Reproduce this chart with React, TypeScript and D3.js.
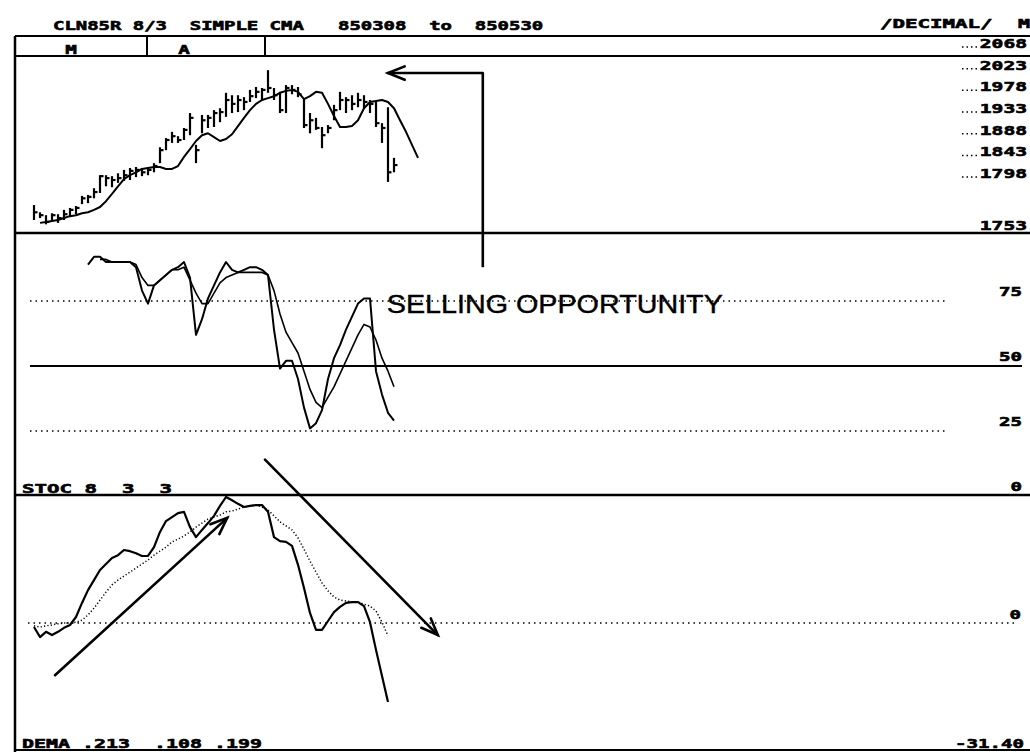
import * as d3 from "d3";

// ---- text ----
const titleText = "CLN85R 8/3  SIMPLE CMA   850308  to  850530";
const unitText = "/DECIMAL/";
const cornerText = "M";
const tabLabels = ["M", "A"];
const stochTitle = "STOC 8  3  3";
const demaTitle = "DEMA .213  .108 .199";
const noteText = "SELLING OPPORTUNITY";

// ---- axis labels ----
const priceTicks = [2068, 2023, 1978, 1933, 1888, 1843, 1798];
const priceFloorLabel = "1753";
const stochTicks = [75, 50, 25, 0];
const stochDotted = [75, 25];
const demaFloorLabel = "-31.40";

// ---- daily bars (index 0 = 850308) ----
const high = [
  1742, 1727, 1721, 1725, 1723, 1732, 1736, 1740, 1761, 1763,
  1777, 1804, 1804, 1802, 1808, 1815, 1819, 1821, 1819, 1821,
  1829, 1862, 1881, 1894, 1885, 1902, 1933, 1867, 1929, 1929,
  1939, 1943, 1975, 1970, 1970, 1966, 1981, 1987, 1985, 2022,
  1985, 1977, 1991, 1991, 1987, 1964, 1933, 1923, 1904, 1908,
  1950, 1977, 1966, 1970, 1975, 1970, 1960, 1956, 1912, 1945,
  1840,
];
const low = [
  1711, 1715, 1702, 1707, 1705, 1711, 1717, 1723, 1744, 1746,
  1756, 1767, 1781, 1779, 1788, 1792, 1794, 1800, 1802, 1804,
  1810, 1829, 1856, 1871, 1871, 1877, 1887, 1829, 1891, 1902,
  1904, 1914, 1925, 1933, 1935, 1939, 1956, 1964, 1960, 1975,
  1960, 1933, 1933, 1972, 1966, 1902, 1891, 1898, 1860, 1891,
  1918, 1939, 1933, 1939, 1945, 1943, 1933, 1904, 1871, 1790,
  1810,
];
const close = [
  1727, 1721, 1707, 1721, 1715, 1723, 1732, 1736, 1756, 1759,
  1769, 1802, 1798, 1794, 1798, 1804, 1813, 1815, 1810, 1815,
  1823, 1856, 1877, 1885, 1877, 1898, 1923, 1856, 1918, 1923,
  1933, 1935, 1960, 1952, 1960, 1956, 1968, 1977, 1981, 1985,
  1970, 1939, 1985, 1981, 1972, 1908, 1918, 1902, 1887, 1902,
  1939, 1960, 1960, 1952, 1960, 1956, 1952, 1912, 1902, 1810,
  1825,
];

// 8 day average displaced 3 days, starts at index 1
const maStart = 1;
const movingAvg = [
  1705, 1707, 1709, 1711, 1715, 1719, 1721, 1725, 1727, 1732,
  1738, 1750, 1765, 1781, 1796, 1804, 1810, 1817, 1819, 1821,
  1821, 1817, 1817, 1823, 1842, 1858, 1875, 1887, 1891, 1883,
  1875, 1879, 1889, 1906, 1923, 1939, 1952, 1960, 1964, 1968,
  1975, 1979, 1981, 1977, 1962, 1968, 1977, 1975, 1952, 1927,
  1904, 1904, 1906, 1918, 1943, 1956, 1958, 1960, 1956, 1943,
  1918, 1894, 1867, 1840,
];

// stochastic %K from index 9, %D from index 11
const kStart = 9;
const stochK = [
  89, 92, 92, 90, 90, 90, 90, 90, 88, 79,
  74, 81, 83, 85, 87, 88, 90, 84, 62, 68,
  76, 81, 86, 90, 87, 86, 87, 88, 88, 87,
  85, 64, 49, 52, 52, 45, 34, 26, 28, 33,
  45, 53, 58, 64, 69, 74, 76, 76, 48, 39,
  32, 29,
];
const dStart = 11;
const stochD = [
  91, 91, 90, 90, 90, 90, 89, 84,
  81, 81, 83, 85, 87, 87, 88, 83, 78, 74,
  74, 78, 82, 84, 85, 86, 86, 86, 86, 86,
  85, 79, 70, 63, 59, 55, 48, 41, 36, 34,
  38, 42, 47, 52, 57, 62, 66, 65, 60, 53,
  48, 42,
];

// DEMA and its signal, from index 0
const dema = [
  -1.0, -3.5, -2.2, -3.0, -2.2, -1.2, -0.5, 1.5, 5.0, 8.2,
  10.7, 13.2, 14.7, 16.2, 16.9, 18.2, 17.9, 17.4, 16.7, 16.7,
  18.9, 22.7, 25.4, 26.4, 27.4, 27.7, 23.9, 21.4, 23.2, 24.9,
  26.7, 29.2, 31.4, 30.6, 29.7, 28.9, 29.2, 29.4, 29.4, 27.7,
  21.4, 20.4, 20.2, 19.2, 14.5, 8.7, 2.5, -1.7, -1.7, 0.5,
  2.7, 4.0, 5.0, 5.2, 5.2, 4.2, 0.2, -6.7, -13.2, -19.7,
];
const demaSignal = [
  -0.7, -1.0, -0.7, -0.5, -0.2, 0, 0, 0.2, 0.7, 2.0,
  3.7, 5.7, 7.7, 9.5, 10.7, 11.7, 12.7, 13.7, 14.7, 15.7,
  16.9, 17.9, 18.9, 20.2, 20.9, 21.7, 22.7, 23.9, 24.9, 25.9,
  26.4, 26.9, 27.7, 27.9, 28.4, 28.9, 29.2, 29.4, 28.9, 28.2,
  26.7, 25.2, 24.2, 23.2, 21.2, 18.4, 15.4, 12.7, 10.0, 8.0,
  6.5, 5.7, 5.5, 5.2, 5.2, 4.7, 4.2, 3.0, 0.2, -3.2,
];

const W = 1030;
const H = 752;
const LEFT = 15;
const TOP_RULE = 36;
const PRICE_TOP = 56;
const PRICE_BOTTOM = 233;
const STOCH_BOTTOM = 495;
const BOTTOM = 750;

const x = d3.scaleLinear().domain([0, 64]).range([34, 418]);
const yPrice = d3.scaleLinear().domain([1684, 2068]).range([PRICE_BOTTOM, 48]);
const yStoch = d3.scaleLinear().domain([0, 100]).range([496, 236]);
const yDema = d3.scaleLinear().domain([-31.4, 31.4]).range([749, 497]);

const mono: React.CSSProperties = {
  fontFamily: "'DejaVu Sans Mono', monospace",
  fontWeight: 700,
  fontSize: 13,
  whiteSpace: "pre",
};

function series(vals: number[], start: number, y: d3.ScaleLinear<number, number>) {
  return d3
    .line<number>()
    .x((_, i) => x(i + start))
    .y((v) => y(v))(vals) as string;
}

function Mono({ text, x0, y0, anchor = "start", cell = 11.6 }: { text: string; x0: number; y0: number; anchor?: string; cell?: number }) {
  return (
    <text
      x={x0}
      y={y0}
      textAnchor={anchor}
      textLength={text.length * cell}
      lengthAdjust="spacingAndGlyphs"
      style={mono}
      stroke="#000"
      strokeWidth={0.6}
      xmlSpace="preserve"
    >
      {text}
    </text>
  );
}

function Arrow({ x1, y1, x2, y2 }: { x1: number; y1: number; x2: number; y2: number }) {
  const a = Math.atan2(y2 - y1, x2 - x1);
  const len = 18;
  const spread = 0.38;
  const h1 = [x2 - len * Math.cos(a - spread), y2 - len * Math.sin(a - spread)];
  const h2 = [x2 - len * Math.cos(a + spread), y2 - len * Math.sin(a + spread)];
  return (
    <g stroke="#000" strokeWidth={2.6} fill="none" strokeLinecap="round">
      <line x1={x1} y1={y1} x2={x2} y2={y2} />
      <polyline points={`${h1[0]},${h1[1]} ${x2},${y2} ${h2[0]},${h2[1]}`} />
    </g>
  );
}

export default function App() {
  const bars = high.map((h, i) => ({ i, h, l: low[i], c: close[i] }));
  const rule = (y: number, w = 2) => <line x1={LEFT} x2={W} y1={y} y2={y} stroke="#000" strokeWidth={w} />;

  // annotation anchors, in chart coordinates
  const topArrowTip = { i: 59, p: 2016 };
  const topArrowCorner = 74.8;
  const topArrowEnd = 88;
  const upArrow = { from: [3.5, -13], to: [32.2, 26.2] };
  const downArrow = { from: [38.5, 14], to: [67.3, -3] };

  return (
    <svg width={W} height={H} style={{ position: "absolute", left: 0, top: 0, background: "#fff" }}>
      {/* header */}
      <Mono text={titleText} x0={53} y0={30} cell={11.4} />
      <Mono text={unitText} x0={880} y0={28} cell={12.5} />
      <Mono text={cornerText} x0={1018} y0={28} cell={12} />
      {rule(TOP_RULE)}
      <line x1={147} x2={147} y1={TOP_RULE} y2={PRICE_TOP} stroke="#000" strokeWidth={2} />
      <line x1={265} x2={265} y1={TOP_RULE} y2={PRICE_TOP} stroke="#000" strokeWidth={2} />
      <Mono text={tabLabels[0]} x0={71} y0={54} anchor="middle" />
      <Mono text={tabLabels[1]} x0={184} y0={54} anchor="middle" />
      {rule(PRICE_TOP)}
      {rule(PRICE_BOTTOM, 2.5)}
      {rule(STOCH_BOTTOM, 2.5)}
      {rule(BOTTOM, 2)}
      <line x1={LEFT} x2={LEFT} y1={TOP_RULE} y2={H} stroke="#000" strokeWidth={2.5} />

      {/* price panel */}
      {priceTicks.map((v) => (
        <g key={v}>
          <line x1={962} x2={978} y1={yPrice(v) - 1} y2={yPrice(v) - 1} stroke="#000" strokeWidth={1.5} strokeDasharray="1.5,3" />
          <Mono text={String(v)} x0={1027} y0={yPrice(v)} anchor="end" cell={11.8} />
        </g>
      ))}
      <Mono text={priceFloorLabel} x0={1027} y0={PRICE_BOTTOM - 3} anchor="end" cell={11.8} />
      <g stroke="#000" strokeWidth={2.2} fill="none">
        {bars.map((b) => (
          <g key={b.i}>
            <line x1={x(b.i)} x2={x(b.i)} y1={yPrice(b.h)} y2={yPrice(b.l)} />
            <line x1={x(b.i)} x2={x(b.i) + 3.5} y1={yPrice(b.c)} y2={yPrice(b.c)} />
          </g>
        ))}
        <path d={series(movingAvg, maStart, yPrice)} strokeWidth={2} strokeLinejoin="round" />
      </g>

      {/* stochastic panel */}
      {stochDotted.map((v) => (
        <line key={v} x1={30} x2={946} y1={yStoch(v)} y2={yStoch(v)} stroke="#000" strokeWidth={1.5} strokeDasharray="1.5,4" />
      ))}
      <line x1={30} x2={1022} y1={yStoch(50)} y2={yStoch(50)} stroke="#000" strokeWidth={1.8} />
      {stochTicks.map((v) => (
        <Mono key={v} text={String(v)} x0={1022} y0={yStoch(v) - 5} anchor="end" cell={11.5} />
      ))}
      <g fill="none" stroke="#000" strokeLinejoin="round">
        <path d={series(stochK, kStart, yStoch)} strokeWidth={2} />
        <path d={series(stochD, dStart, yStoch)} strokeWidth={1.6} />
      </g>
      <text
        x={x(58.8)}
        y={yStoch(70.4)}
        textLength={336}
        lengthAdjust="spacingAndGlyphs"
        stroke="#000"
        strokeWidth={0.4}
        style={{ fontFamily: "'Liberation Sans', Arial, sans-serif", fontSize: 25 }}
      >
        {noteText}
      </text>
      <Mono text={stochTitle} x0={22} y0={STOCH_BOTTOM - 2} cell={12.5} />

      {/* DEMA panel */}
      <line x1={28} x2={1016} y1={yDema(0)} y2={yDema(0)} stroke="#000" strokeWidth={1.5} strokeDasharray="1.5,4" />
      <Mono text="0" x0={1021} y0={yDema(0) - 4} anchor="end" cell={11.5} />
      <Mono text={demaFloorLabel} x0={1024} y0={BOTTOM - 2} anchor="end" cell={11.5} />
      <Mono text={demaTitle} x0={22} y0={BOTTOM - 2} cell={12} />
      <g fill="none" stroke="#000" strokeLinejoin="round">
        <path d={series(dema, 0, yDema)} strokeWidth={2.2} />
        <path d={series(demaSignal, 0, yDema)} strokeWidth={1.5} strokeDasharray="1.2,2.2" />
      </g>

      {/* annotations */}
      <Arrow x1={x(topArrowCorner)} y1={yPrice(topArrowTip.p)} x2={x(topArrowTip.i)} y2={yPrice(topArrowTip.p)} />
      <line
        x1={x(topArrowCorner)}
        x2={x(topArrowCorner)}
        y1={yPrice(topArrowTip.p)}
        y2={yStoch(topArrowEnd)}
        stroke="#000"
        strokeWidth={2.6}
      />
      <Arrow x1={x(upArrow.from[0])} y1={yDema(upArrow.from[1])} x2={x(upArrow.to[0])} y2={yDema(upArrow.to[1])} />
      <Arrow x1={x(downArrow.from[0])} y1={yStoch(downArrow.from[1])} x2={x(downArrow.to[0])} y2={yDema(downArrow.to[1])} />
    </svg>
  );
}
